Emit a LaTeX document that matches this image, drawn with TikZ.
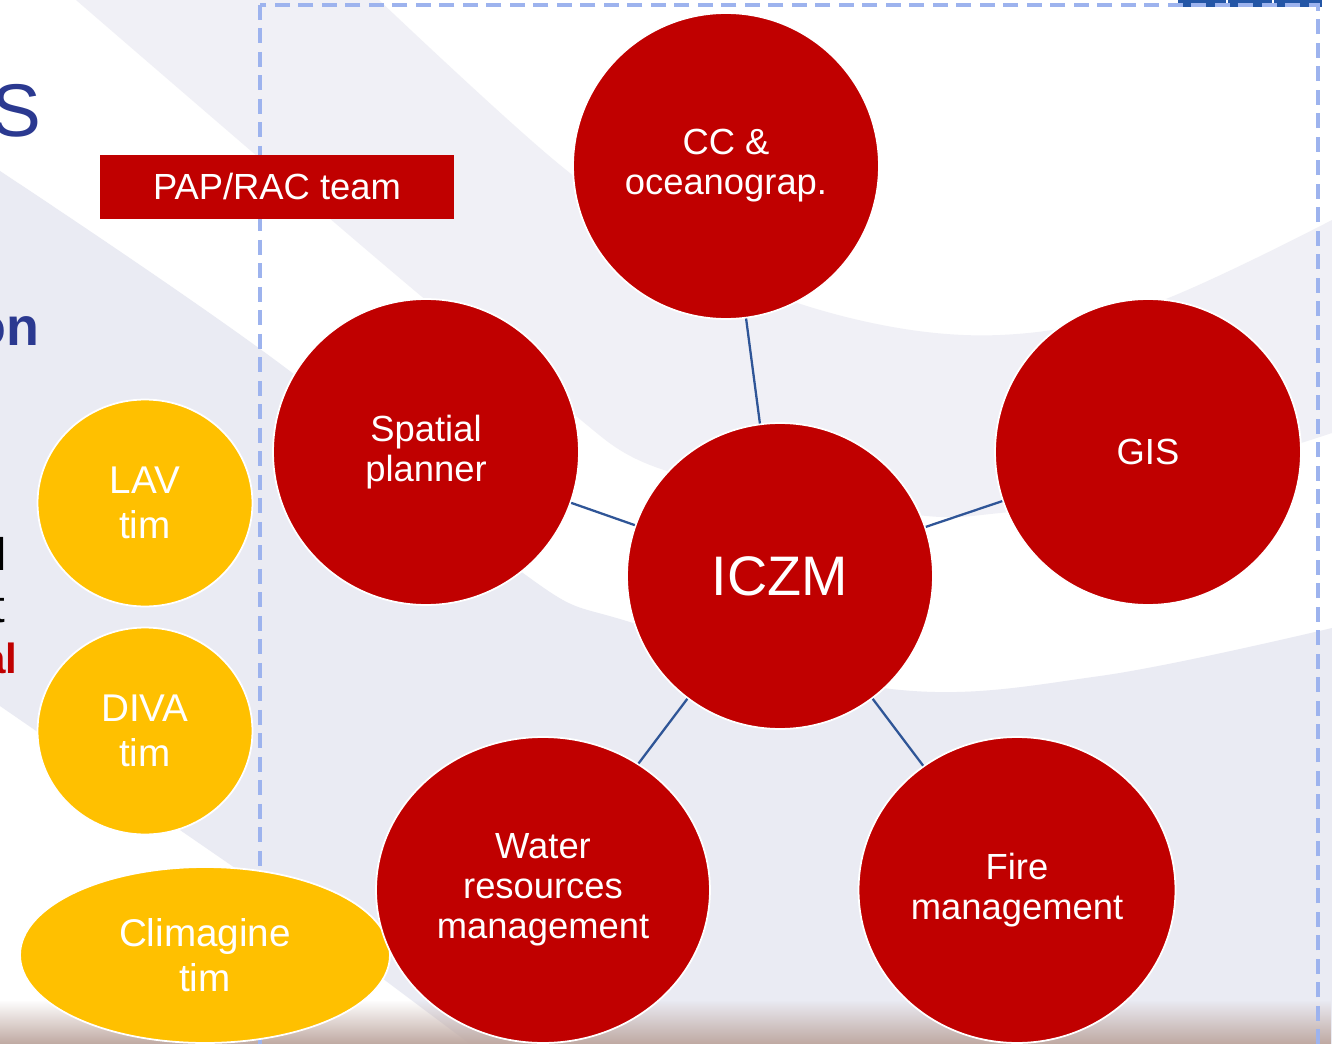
\documentclass[tikz,border=0pt]{standalone}
\usepackage{fontspec}
\setmainfont{Liberation Sans}
\usetikzlibrary{shapes.geometric, fadings}

\definecolor{papred}{HTML}{C00000}
\definecolor{timyellow}{HTML}{FFC000}
\definecolor{linkblue}{HTML}{2F5597}
\definecolor{frameblue}{HTML}{9DB3EE}
\definecolor{swoosha}{HTML}{F0F0F6}
\definecolor{swooshb}{HTML}{EAEBF3}
\definecolor{titleblue}{HTML}{2B3990}
\definecolor{slideblue}{HTML}{2456A6}
\definecolor{floorbrown}{HTML}{BFA9A2}

\begin{document}
\begin{tikzpicture}[x=0.02cm, y=-0.02cm,
   every node/.style = {inner sep=0pt, align=center, text=white,
      font=\fontsize{20.7}{22.7}\selectfont},
   role/.style = {circle, fill=papred, draw=white, line width=1pt, minimum size=6.12cm},
   tim/.style = {ellipse, fill=timyellow, draw=white, line width=1pt,
      font=\fontsize{22}{25.5}\selectfont},
   link/.style = {draw=linkblue, line width=1.3pt}]
   \useasboundingbox (0,0) rectangle (1332,1044);
   \clip (0,0) rectangle (1332,1044);

   % slide background
   \fill[white] (0,0) rectangle (1332,1044);
   \fill[swoosha] plot[smooth, tension=0.6] coordinates {(379,0) (560,165) (700,262) (850,318) (1000,335) (1150,305) (1332,220)}
      -- (1332,433)
      -- plot[smooth, tension=0.6] coordinates {(1332,433) (1150,488) (1000,513) (900,513) (667,471) (560,404) (421,296) (76,0)}
      -- cycle;
   \fill[swooshb] plot[smooth, tension=0.6] coordinates {(0,171) (295,375) (523,573) (633,623) (891,689) (1100,676) (1332,628)}
      -- (1332,1044) -- (470,1044) -- (238,870) -- (0,706) -- cycle;
   \fill[floorbrown, path fading=north] (0,1000) rectangle (1332,1044);

   % cut-off slide text
   \node[anchor=base east, text=titleblue, font=\fontsize{42.5}{45}\selectfont] (title) at (42,137) {S};
   \node[anchor=base east, text=titleblue, font=\fontsize{30.6}{33}\bfseries] (fragon) at (40,345) {on};
   \node[anchor=base east, text=black, font=\fontsize{26}{28}\selectfont] (fragl) at (7,570) {l};
   \node[anchor=base east, text=black, font=\fontsize{26}{28}\selectfont] (fragt) at (6,622) {t};
   \node[anchor=base east, text=papred, font=\fontsize{24}{26}\bfseries] (fragal) at (18,673) {al};

   \fill[slideblue] (1178,-4) rectangle (1322,7);
   \draw[white, line width=0.6pt] (1227,-4) -- (1227,7) (1273,-4) -- (1273,7);
   \draw[frameblue, line width=0.07cm, dash pattern=on 0.3cm off 0.17cm] (260,5) rectangle (1318,1100);

   \node[fill=papred, minimum width=7.08cm, minimum height=1.28cm] (team) at (277,187) {PAP/RAC team};

   \node[tim, minimum width=4.3cm, minimum height=4.14cm] (lav) at (145,503) {LAV\\tim};
   \node[tim, minimum width=4.3cm, minimum height=4.14cm] (diva) at (145,731) {DIVA\\tim};
   \node[tim, minimum width=7.4cm, minimum height=3.52cm] (climagine) at (205,955) {Climagine\\tim};

   \node[role] (iczm) at (780,576) {\fontsize{31.7}{34}\selectfont ICZM};
   \node[role] (cc) at (726,166) {CC \&\\oceanograp.};
   \node[role] (spatial) at (426,452) {Spatial\\planner};
   \node[role] (gis) at (1148,452) {GIS};
   \node[role, ellipse, minimum width=6.68cm, minimum height=6.12cm] (water) at (543,890) {Water\\resources\\management};
   \node[role, ellipse, minimum width=6.34cm, minimum height=6.12cm] (fire) at (1017,890) {Fire\\management};

   \draw[link] (iczm) -- (cc);
   \draw[link] (iczm) -- (spatial);
   \draw[link] (iczm) -- (gis);
   \draw[link] (iczm) -- (water);
   \draw[link] (iczm) -- (fire);
\end{tikzpicture}
\end{document}
